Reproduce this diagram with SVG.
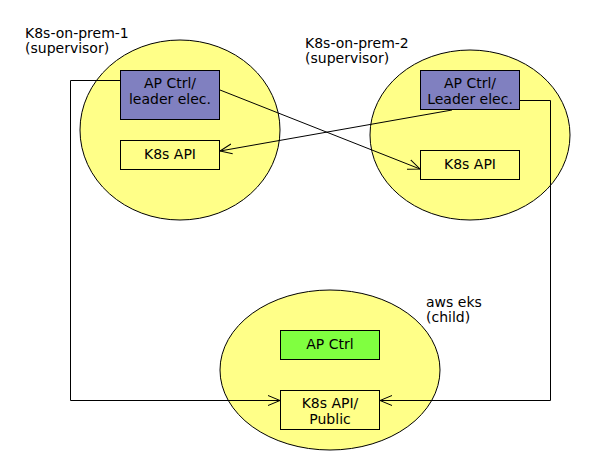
<svg xmlns="http://www.w3.org/2000/svg" width="590" height="470" viewBox="0 0 590 470">
<defs>
<style>
.ell{fill:#ffff88;stroke:#000;stroke-width:1}
.box{stroke:#000;stroke-width:1}
.y{fill:#ffff88}
.p{fill:#8080c0}
.g{fill:#80ff40}
text{font-family:"DejaVu Sans",sans-serif;font-size:14px;fill:#000}
.c{text-anchor:middle}
.ln{fill:none;stroke:#000;stroke-width:1}
</style>
<marker id="arr" viewBox="0 0 12 12" refX="12" refY="6" markerWidth="12" markerHeight="12" markerUnits="userSpaceOnUse" orient="auto">
<path d="M0,1 L12,6 L0,11" fill="none" stroke="#000" stroke-width="1"/>
</marker>
</defs>
<rect width="590" height="470" fill="#fff"/>
<g id="cluster1">
<ellipse class="ell" cx="180" cy="130" rx="100" ry="90"/>
<text x="25" y="38">K8s-on-prem-1</text>
<text x="25" y="53">(supervisor)</text>
</g>
<g id="cluster2">
<ellipse class="ell" cx="470" cy="135" rx="100" ry="85"/>
<text x="305" y="48">K8s-on-prem-2</text>
<text x="305" y="63">(supervisor)</text>
</g>
<g id="cluster3">
<ellipse class="ell" cx="330" cy="370" rx="110" ry="80"/>
<text x="426" y="307">aws eks</text>
<text x="426" y="322">(child)</text>
</g>
<g id="ap1">
<rect class="box p" x="120.5" y="70.5" width="99" height="49"/>
<text class="c" x="170" y="88">AP Ctrl/</text>
<text class="c" x="170" y="104">leader elec.</text>
</g>
<g id="api1">
<rect class="box y" x="120.5" y="140.5" width="99" height="29"/>
<text class="c" x="170" y="159">K8s API</text>
</g>
<g id="ap2">
<rect class="box p" x="420.5" y="70.5" width="99" height="39"/>
<text class="c" x="470" y="88">AP Ctrl/</text>
<text class="c" x="470" y="104">Leader elec.</text>
</g>
<g id="api2">
<rect class="box y" x="420.5" y="150.5" width="99" height="29"/>
<text class="c" x="470" y="169">K8s API</text>
</g>
<g id="ap3">
<rect class="box g" x="280.5" y="330.5" width="99" height="29"/>
<text class="c" x="330" y="349">AP Ctrl</text>
</g>
<g id="api3">
<rect class="box y" x="280.5" y="390.5" width="99" height="39"/>
<text class="c" x="330" y="408">K8s API/</text>
<text class="c" x="330" y="424">Public</text>
</g>
<g id="connectors">
<path class="ln" d="M120,80.5 H70.5 V400.5 H280" marker-end="url(#arr)"/>
<path class="ln" d="M520,100.5 H550.5 V400.5 H380" marker-end="url(#arr)"/>
<path class="ln" d="M220,90 L420,169" marker-end="url(#arr)"/>
<path class="ln" d="M452,110 L220,151" marker-end="url(#arr)"/>
</g>
</svg>
